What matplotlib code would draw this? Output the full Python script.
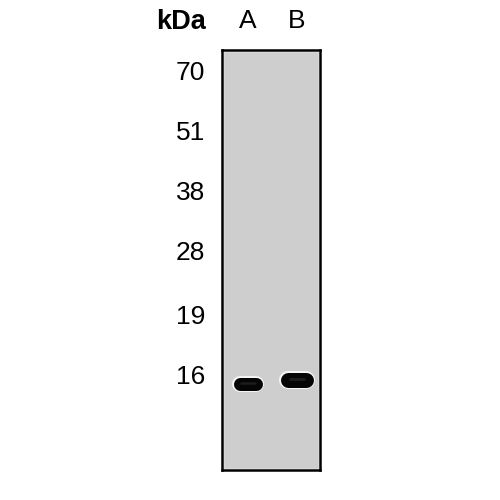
import matplotlib
matplotlib.use("Agg")
import matplotlib.pyplot as plt
from matplotlib.patches import Rectangle

# ---- data ----
lanes = ["A", "B"]
marker_labels = ["70", "51", "38", "28", "19", "16"]
marker_rows = [70, 130, 190, 250, 315, 375]      # migration (image rows) of ladder marks
band_rows = [383.5, 379.5]                         # migration of the detected band per lane
band_thickness = [13, 15]                          # band thickness (px)
band_halfwidth = [0.17, 0.18]                      # band half length (lane units)

plt.rcParams['font.family'] = ['Liberation Sans', 'DejaVu Sans']

fig = plt.figure(figsize=(5, 5), dpi=100)
fig.patch.set_facecolor("white")

L, R, T, B = 222, 320, 50, 470
ax = fig.add_axes([L / 500, 1 - B / 500, (R - L) / 500, (B - T) / 500])
ax.set_xlim(-0.53, 1.47)
ax.set_ylim(B, T)
ax.set_facecolor("#cecece")
for s in ax.spines.values():
    s.set_color("black")
    s.set_linewidth(1.8)
ax.add_patch(Rectangle((0, 0), 1, 1, transform=ax.transAxes, fill=False,
                       edgecolor="white", linewidth=2.4, zorder=1))

lane_x = list(range(len(lanes)))
for x, y, th, hw in zip(lane_x, band_rows, band_thickness, band_halfwidth):
    ax.plot([x - hw, x + hw], [y, y], color="white", lw=(th + 3) * 0.72,
            solid_capstyle="round", alpha=0.8, zorder=2)
    ax.plot([x - hw, x + hw], [y, y], color="#050505", lw=th * 0.72,
            solid_capstyle="round", zorder=3)
    ax.plot([x - hw * 0.8, x + hw * 0.8], [y - 0.5, y - 0.5], color="#1c1c1c",
            lw=th * 0.14, solid_capstyle="round", zorder=4)

ax.set_yticks(marker_rows)
ax.set_yticklabels(marker_labels, fontsize=19)
ax.tick_params(axis="y", length=0, pad=12)
ax.set_xticks(lane_x)
ax.set_xticklabels(lanes, fontsize=19)
ax.xaxis.tick_top()
ax.tick_params(axis="x", length=0, pad=12)

fig.text(181 / 500, 1 - 22 / 500, "kDa", fontsize=19.5, fontweight="bold",
         ha="center", va="center")

fig.savefig("out.png", dpi=100, facecolor="white")
